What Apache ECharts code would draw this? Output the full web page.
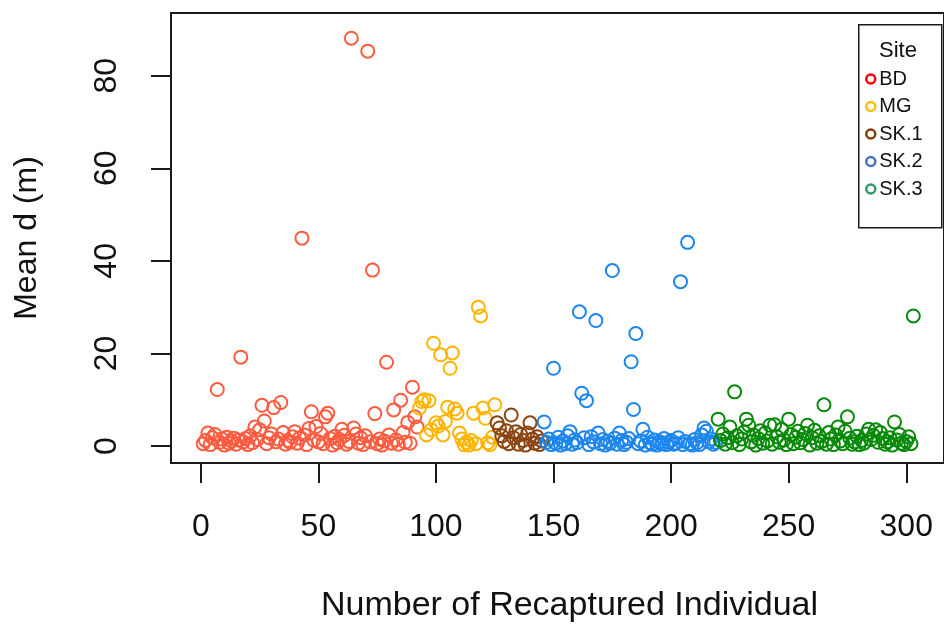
<!DOCTYPE html>
<html>
<head>
<meta charset="utf-8">
<script src="https://cdn.jsdelivr.net/npm/echarts@6/dist/echarts.min.js"></script>
<style>
html,body{margin:0;padding:0;background:#fff;}
#chart{width:944px;height:628px;}
</style>
</head>
<body>
<div id="chart"></div>
<script>
// ---- Data (Mean d in metres for each recaptured individual, in order) ----
var sites = ['BD', 'MG', 'SK.1', 'SK.2', 'SK.3'];
var valuesBD = [0.5,1.2,2.8,0.3,1.8,2.5,12.2,0.8,1.5,0.2,1.9,0.6,1.1,1.7,0.4,1.3,19.2,0.9,1.6,0.3,2.2,0.7,4.1,1.4,3.5,8.8,5.4,0.5,1.8,2.6,8.3,0.9,1.5,9.4,2.9,0.4,1.2,0.8,2.0,3.1,0.6,1.7,44.9,2.4,0.3,3.8,7.4,1.3,4.2,0.9,2.7,0.5,6.3,7.1,1.6,0.2,2.1,0.7,1.4,3.6,2.3,0.4,1.0,88.1,3.9,2.6,0.6,1.8,0.3,2.2,85.3,0.9,38.0,7.0,0.5,1.5,0.2,1.1,18.1,2.4,0.6,7.8,1.3,0.4,9.9,2.9,0.8,5.1,0.6,12.7,6.3,4.1];
var valuesMG = [8.2,9.6,10.0,2.4,9.8,3.5,22.2,5.0,4.3,19.7,2.4,5.3,8.4,16.8,20.1,8.0,7.1,2.8,1.5,0.3,0.8,0.2,1.2,7.1,0.5,30.0,28.1,8.2,6.0,0.7,0.3,1.9,8.9];
var valuesSK1 = [5.0,3.9,2.2,1.0,3.3,0.5,6.7,1.8,3.1,0.4,2.5,1.2,0.2,2.8,5.0,1.5,0.6,2.0,0.3,1.1];
var valuesSK2 = [5.2,0.8,1.5,0.3,16.8,0.6,1.9,0.2,1.1,0.5,2.2,3.1,0.4,1.3,0.7,29.0,11.4,1.8,9.8,0.3,2.0,0.9,27.1,2.8,0.5,1.4,0.2,1.0,0.6,37.9,1.7,0.4,2.8,1.2,0.3,0.8,1.6,18.2,7.9,24.3,0.5,1.1,3.6,0.2,1.9,0.7,0.4,1.3,0.2,0.9,0.5,1.6,0.3,0.8,1.2,0.4,0.6,1.8,35.5,0.3,1.0,44.0,0.5,0.2,1.4,0.7,0.3,2.4,3.9,3.2,0.9,1.5,0.4,0.8];
var valuesSK3 = [5.8,1.2,2.6,0.4,1.8,4.1,0.7,11.7,2.2,0.3,1.5,3.0,5.8,4.5,0.9,2.4,0.2,1.6,3.3,0.6,2.8,1.1,4.5,0.4,4.6,2.0,0.8,3.6,1.3,0.3,5.8,2.5,0.5,1.9,3.2,0.7,1.4,2.7,4.5,0.2,1.8,3.4,0.6,2.2,1.0,8.9,0.4,2.9,1.5,0.3,2.4,4.1,1.1,0.5,3.2,6.3,1.7,0.4,0.9,2.1,0.3,1.2,0.6,2.6,3.6,1.4,2.3,3.5,0.8,2.9,1.6,0.4,0.9,1.8,0.2,5.2,1.3,2.5,0.6,0.3,1.0,2.0,0.5,28.1];
var xTicks = [0, 50, 100, 150, 200, 250, 300];
var yTicks = [0, 20, 40, 60, 80];

// ---- Styles ----
var pointColors = ['#FF5B3F', '#FFB400', '#8B4513', '#1C86EE', '#078A07'];
var legendColors = ['#FF0000', '#FFC000', '#843C0C', '#4472C4', '#339966'];
var FONT = 'Liberation Sans, Arial, sans-serif';

var siteValues = [valuesBD, valuesMG, valuesSK1, valuesSK2, valuesSK3];
var series = [];
var idx = 0;
siteValues.forEach(function (vals, s) {
  var data = vals.map(function (v) { idx += 1; return [idx, v]; });
  series.push({
    name: sites[s],
    type: 'scatter',
    data: data,
    symbol: 'circle',
    symbolSize: 13,
    itemStyle: { color: 'rgba(255,255,255,0)', borderColor: pointColors[s], borderWidth: 2, opacity: 1 },
    emphasis: { disabled: true },
    silent: true
  });
});

var chart = echarts.init(document.getElementById('chart'), null, { renderer: 'canvas' });
chart.setOption({
  animation: false,
  backgroundColor: '#ffffff',
  textStyle: { fontFamily: FONT },
  grid: { left: 171, top: 13, width: 778, height: 450, show: true, borderColor: '#1a1a1a', borderWidth: 2, backgroundColor: 'transparent' },
  xAxis: {
    type: 'value',
    position: 'bottom',
    min: -12.68, max: 316.05,
    name: 'Number of Recaptured Individual',
    nameLocation: 'middle',
    nameGap: 126,
    nameTextStyle: { fontSize: 34, color: '#111', fontFamily: FONT, padding: [0, 0, 0, 24] },
    axisLine: { show: false, onZero: false },
    axisTick: { show: true, inside: false, length: 20, customValues: xTicks, lineStyle: { color: '#1a1a1a', width: 2 } },
    axisLabel: { show: true, customValues: xTicks, margin: 48, fontSize: 32, color: '#111', fontFamily: FONT },
    splitLine: { show: false }
  },
  yAxis: {
    type: 'value',
    position: 'left',
    min: -3.67, max: 93.54,
    name: 'Mean d (m)',
    nameLocation: 'middle',
    nameGap: 128,
    nameRotate: 90,
    nameTextStyle: { fontSize: 32, color: '#111', fontFamily: FONT },
    axisLine: { show: false, onZero: false },
    axisTick: { show: true, inside: false, length: 20, customValues: yTicks, lineStyle: { color: '#1a1a1a', width: 2 } },
    axisLabel: { show: true, customValues: yTicks, rotate: 90, margin: 48, fontSize: 32, color: '#111', fontFamily: FONT },
    splitLine: { show: false }
  },
  legend: {
    orient: 'vertical',
    left: 865,
    top: 69,
    padding: 0,
    itemWidth: 9,
    itemHeight: 9,
    itemGap: 7.5,
    icon: 'circle',
    selectedMode: false,
    textStyle: { fontSize: 20, lineHeight: 20, color: '#111', fontFamily: FONT, padding: [0, 0, 0, -1] },
    data: sites.map(function (s, i) {
      return { name: s, itemStyle: { color: '#ffffff', borderColor: legendColors[i], borderWidth: 2.5 } };
    })
  },
  graphic: [
    { type: 'rect', left: 858, top: 24, shape: { width: 83, height: 203 }, style: { fill: 'rgba(255,255,255,0)', stroke: '#1a1a1a', lineWidth: 1.5 }, z: 10 },
    { type: 'text', left: 879, top: 40, style: { text: 'Site', fontSize: 22, fontFamily: FONT, fill: '#111' }, z: 10 }
  ],
  series: series
});
</script>
</body>
</html>
